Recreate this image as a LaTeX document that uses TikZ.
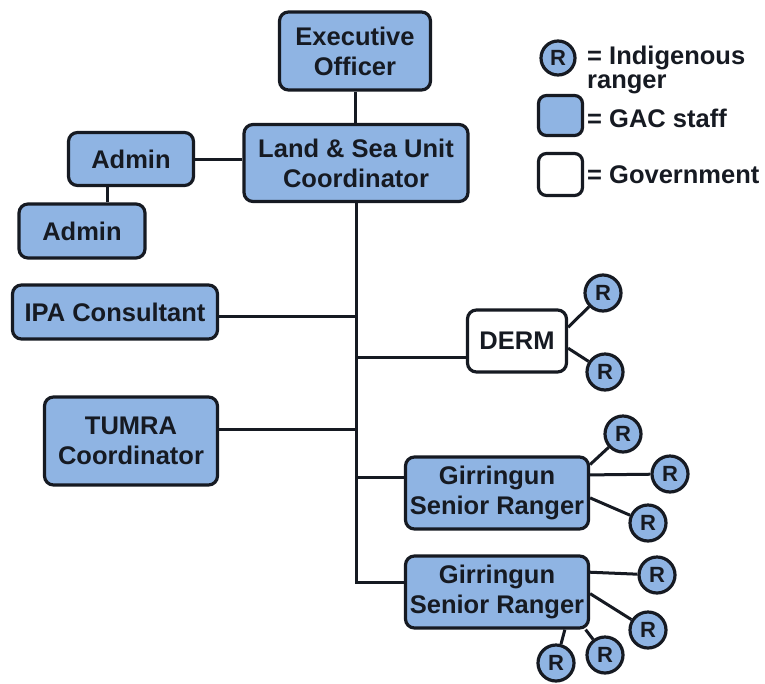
\documentclass[tikz,border=0pt]{standalone}
\usepackage{fontspec}
\setmainfont{Liberation Sans}
\definecolor{gacblue}{HTML}{8FB4E3}
\definecolor{inkline}{HTML}{161A22}
\begin{document}
\begin{tikzpicture}
[x=1pt,y=-1pt,
  nodedecorate/.style={shape=rectangle,rounded corners=9pt,draw=inkline,line width=3.2pt,
    align=center,inner sep=0pt,text=inkline,font=\fontsize{25.5}{30}\selectfont\bfseries},%
  rangerdecorate/.style={shape=circle,draw=inkline,line width=3.2pt,fill=gacblue,
    minimum size=36pt,inner sep=0pt,text=inkline,font=\fontsize{22}{22}\selectfont\bfseries},%
  legenddecorate/.style={anchor=west,align=left,inner sep=0pt,text=inkline,
    font=\fontsize{25.5}{24}\selectfont\bfseries},%
  linedecorate/.style={-,line width=3pt,draw=inkline}]
\useasboundingbox (0,0) rectangle (765,683);
%% boxes
\foreach \nodename/\nodelabel/\x/\y/\boxw/\boxh/\boxfill in {
  exec/{Executive\\Officer}/355/51/151/78/gacblue,
  land/{Land \& Sea Unit\\Coordinator}/356/163/224/77/gacblue,
  admina/Admin/131/159/125/53/gacblue, adminb/Admin/82/231/126/54/gacblue,
  ipa/IPA Consultant/115/312/205/54/gacblue,
  tumra/{TUMRA\\Coordinator}/131/441/173/88/gacblue,
  derm/DERM/517/341/99/62/white,
  gir1/{Girringun\\Senior Ranger}/497/493/183/72/gacblue,
  gir2/{Girringun\\Senior Ranger}/497/592/183/72/gacblue} {
  \node (\nodename) at (\x,\y) [nodedecorate,fill=\boxfill,
    minimum width=\boxw pt,minimum height=\boxh pt] {\nodelabel};
}
%% rangers
\foreach \nodename/\x/\y in {r1/603/293, r2/605/372, ra/623/434, rb/670/474,
  rc/648/523, rd/657/575, re/648/630, rf/605/655, rg/556/663} {
  \node (\nodename) at (\x,\y) [rangerdecorate] {R};
}
%% legend
\node (legr) at (558,58) [rangerdecorate,minimum size=34pt] {R};
\node (leggac) at (560.5,115.5) [nodedecorate,fill=gacblue,minimum width=44pt,minimum height=40pt,rounded corners=8pt] {};
\node (leggov) at (560.5,174.5) [nodedecorate,fill=white,minimum width=44pt,minimum height=42pt,rounded corners=8pt] {};
\node (legrtext) at (587,70) [legenddecorate] {= Indigenous\\ranger};
\node (leggactext) at (587,118) [legenddecorate] {= GAC staff};
\node (leggovtext) at (587,175) [legenddecorate] {= Government};
%% edges or lines
\draw[linedecorate] (exec.south) -- (exec.south |- land.north);
\draw[linedecorate] (admina.east) -- (admina.east -| land.west);
\draw[linedecorate] ([xshift=25pt]adminb.north) -- ([xshift=25pt]adminb.north |- admina.south);
\draw[linedecorate] (land.south) |- ([yshift=10pt]gir2.west);
\foreach \target/\ty/\side in {ipa/316/east, tumra/429/east, derm/357/west, gir1/477/west} {
  \draw[linedecorate] (land.south |- 0,\ty) -- (\target.\side |- 0,\ty);
}
\path
\foreach \startnode/\endnode in {derm.15/r1, derm.-8/r2, gir1.17/ra, gir1.11/rb,
  gir1.-3/rc, gir2.12/rd, gir2.-1/re, gir2.-23/rf, gir2.-29/rg} {
  (\startnode) edge[linedecorate] (\endnode)
};
\end{tikzpicture}
\end{document}
